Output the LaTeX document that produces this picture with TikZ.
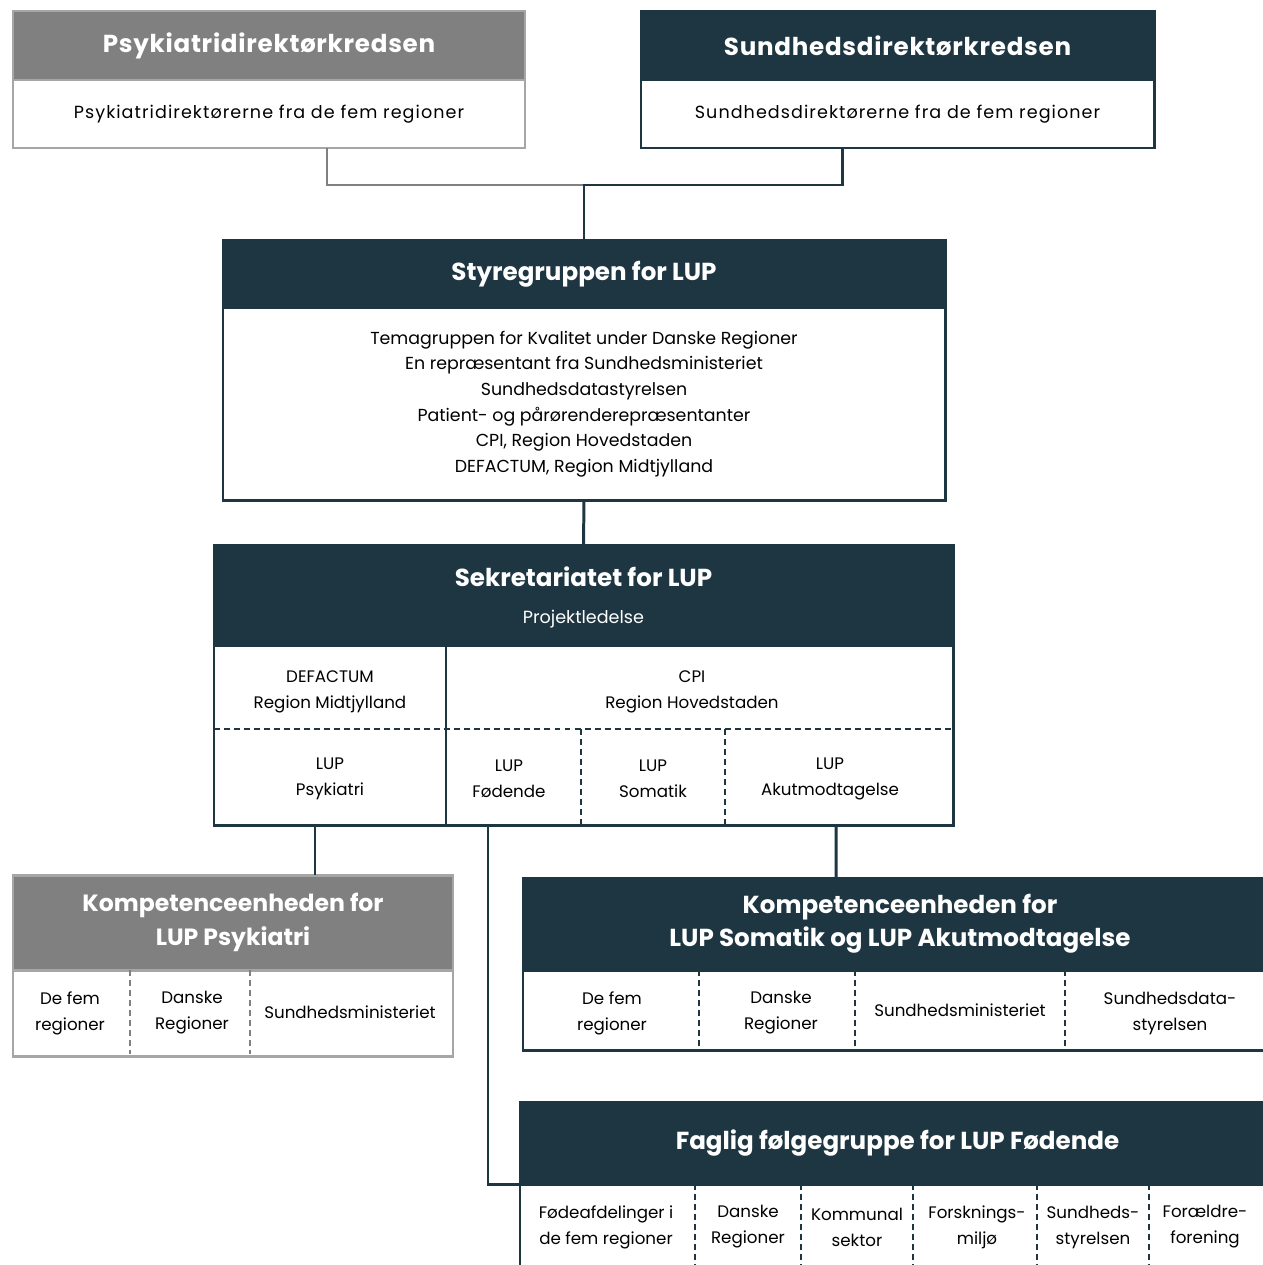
\documentclass[tikz,border=0pt]{standalone}
\usepackage{fontspec}
\setmainfont{Poppins}
\usetikzlibrary{positioning}
\usetikzlibrary{calc}
\definecolor{dk}{RGB}{29,54,65}
\definecolor{gyfill}{RGB}{128,128,128}
\definecolor{gyline}{RGB}{166,166,166}
\newlength{\pu}\setlength{\pu}{0.02cm}
\tikzset{hdr/.style={draw=dk, fill=dk, text=white, line width=1.7pt, inner sep=0pt, outer sep=0pt, align=center, font=\bfseries\fontsize{14}{19}\selectfont}}
\tikzset{hdrg/.style={hdr, draw=gyline, fill=gyfill}}
\tikzset{wide/.style={font=\bfseries\fontsize{14}{19}\selectfont\addfontfeature{LetterSpace=3}}}
\tikzset{bod/.style={draw=dk, fill=white, line width=1.7pt, inner sep=0pt, outer sep=0pt, align=center, font=\fontsize{9.9}{14.6}\selectfont}}
\tikzset{bodg/.style={bod, draw=gyline}}
\tikzset{widebod/.style={font=\fontsize{10}{14.6}\selectfont\addfontfeature{LetterSpace=6}}}
\tikzset{cell/.style={align=center, inner sep=1pt, font=\fontsize{9.5}{14.8}\selectfont}}
\tikzset{ln/.style={dk, line width=1.7pt}}
\tikzset{lng/.style={gyfill, line width=1.7pt}}
\tikzset{dsh/.style={dk, line width=1.1pt, dash pattern=on 3.4pt off 2.3pt}}
\tikzset{dshg/.style={dsh, gyfill}}

\begin{document}
\begin{tikzpicture}[x=0.02cm, y=-0.02cm]
\useasboundingbox (0,0) rectangle (1263,1265);
\clip (0,0) rectangle (1263,1265);

% top row
\node[hdrg, wide, minimum width=512\pu, minimum height=69\pu] (psykhdr) at (269,45.5) {Psykiatridirektørkredsen};
\node[bodg, widebod, minimum width=512\pu, minimum height=68\pu, below=0pt of psykhdr] (psykbody) {Psykiatridirektørerne fra de fem regioner};
\node[hdr, wide, minimum width=513\pu, minimum height=69\pu] (sundhdr) at (897.5,45.5) {Sundhedsdirektørkredsen};
\node[bod, widebod, minimum width=513\pu, minimum height=68\pu, below=0pt of sundhdr] (sundbody) {Sundhedsdirektørerne fra de fem regioner};

% styregruppe
\node[hdr, minimum width=722\pu, minimum height=68\pu] (styrhdr) at (584,274) {Styregruppen for LUP};
\node[bod, minimum width=722\pu, minimum height=192\pu, below=0pt of styrhdr] (styrbody) {Temagruppen for Kvalitet under Danske Regioner\\
En repræsentant fra Sundhedsministeriet\\
Sundhedsdatastyrelsen\\
Patient- og pårørenderepræsentanter\\
CPI, Region Hovedstaden\\
DEFACTUM, Region Midtjylland};

\coordinate (jtop) at (584,185);
\draw[lng] ($(psykbody.south)+(58,0)$) |- (jtop);
\draw[ln] ($(sundbody.south)+(-55.5,0)$) |- (jtop) -- (styrhdr.north);

% sekretariat
\node[hdr, minimum width=739\pu, minimum height=100\pu, font=\bfseries\fontsize{14}{21}\selectfont, text depth=0pt] (sekhdr) at (583.5,595) {\rule{0pt}{8pt}Sekretariatet for LUP\\{\mdseries\fontsize{10}{12}\selectfont Projektledelse}};
\node[bod, minimum width=739\pu, minimum height=180\pu, below=0pt of sekhdr] (sekbody) {};
\draw[ln] (styrbody.south) -- (sekhdr.north);

\draw[ln] (446,645) -- (446,825);
\draw[dsh] (214,729) -- (953,729);
\draw[dsh] (581,729) -- (581,825);
\draw[dsh] (725,729) -- (725,825);
\node[cell] (defa) at (330,692) {DEFACTUM\\Region Midtjylland};
\node[cell] (cpi) at (692,692) {CPI\\Region Hovedstaden};
\node[cell] (lpsy) at (330,779) {LUP\\Psykiatri};
\node[cell] (lfod) at (509,779) {LUP\\Fødende};
\node[cell] (lsom) at (653,779) {LUP\\Somatik};
\node[cell] (lakut) at (830,779) {LUP\\Akutmodtagelse};

% kompetenceenhed psykiatri
\node[hdrg, font=\bfseries\fontsize{13.4}{19}\selectfont, minimum width=440\pu, minimum height=95\pu] (kpsyhdr) at (233,922.5) {Kompetenceenheden for\\LUP Psykiatri};
\node[bodg, minimum width=440\pu, minimum height=86\pu, below=0pt of kpsyhdr] (kpsybody) {};
\draw[dshg] (130,970) -- (130,1054);
\draw[dshg] (250,970) -- (250,1054);
\node[cell] (kpsy1) at (70,1013) {De fem\\regioner};
\node[cell] (kpsy2) at (192,1013) {Danske\\Regioner};
\node[cell] (kpsy3) at (350,1012) {Sundhedsministeriet};

% kompetenceenhed somatik
\node[hdr, minimum width=754\pu, minimum height=92\pu] (ksomhdr) at (900,924) {Kompetenceenheden for\\LUP Somatik og LUP Akutmodtagelse};
\node[bod, minimum width=754\pu, minimum height=80\pu, below=0pt of ksomhdr] (ksombody) {};
\draw[dsh] (699,970) -- (699,1048);
\draw[dsh] (855,970) -- (855,1048);
\draw[dsh] (1065,970) -- (1065,1048);
\node[cell] (ksom1) at (612,1013) {De fem\\regioner};
\node[cell] (ksom2) at (781,1013) {Danske\\Regioner};
\node[cell] (ksom3) at (960,1010) {Sundhedsministeriet};
\node[cell] (ksom4) at (1170,1013) {Sundhedsdata-\\styrelsen};

% faglig foelgegruppe
\node[hdr, minimum width=755\pu, minimum height=82\pu] (faghdr) at (897.5,1143) {Faglig følgegruppe for LUP Fødende};
\node[bod, minimum width=755\pu, minimum height=118\pu, below=0pt of faghdr] (fagbody) {};
\foreach \xd in {695,801,913,1037,1149}
  \draw[dsh] (\xd,1184) -- (\xd,1270);
\node[cell] (fag1) at (606,1227) {Fødeafdelinger i\\de fem regioner};
\node[cell] (fag2) at (748,1227) {Danske\\Regioner};
\node[cell] (fag3) at (857,1227) {Kommunal\\sektor};
\node[cell] (fag4) at (977,1227) {Forsknings-\\miljø};
\node[cell] (fag5) at (1093,1227) {Sundheds-\\styrelsen};
\node[cell] (fag6) at (1205,1227) {Forældre-\\forening};

% connectors below the secretariat
\draw[ln] ($(sekbody.south)+(-268.5,0)$) -- ($(kpsyhdr.north)+(82,0)$);
\draw[ln] ($(sekbody.south)+(-95.5,0)$) |- (faghdr.south west);
\draw[ln] ($(sekbody.south)+(252.5,0)$) -- ($(ksomhdr.north)+(-64,0)$);
\end{tikzpicture}
\end{document}
